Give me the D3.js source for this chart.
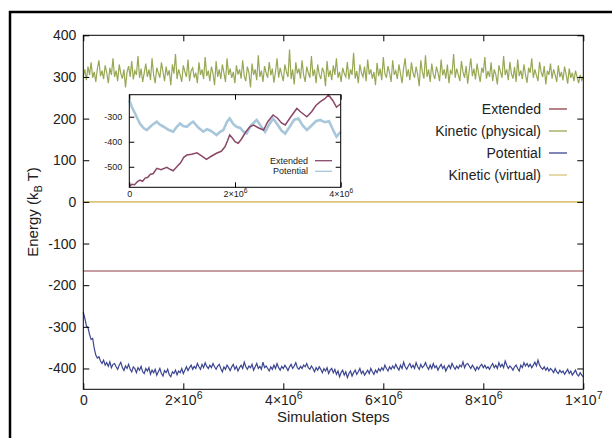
<!DOCTYPE html>
<html>
<head>
<meta charset="utf-8">
<script src="https://cdn.jsdelivr.net/npm/d3@7"></script>
<style>
  body { margin: 0; background: #fff; }
  text { font-family: "Liberation Sans", Arial, sans-serif; fill: #222; }
</style>
</head>
<body>
<div id="chart"></div>
<script>
// sampled every 31250 steps from 0 to 1e7
var kineticPhysical = [
  300, 318, 292, 325, 305, 335, 298, 312, 288, 320, 340, 302, 315, 295, 328, 310, 285, 322, 305, 345,
  300, 315, 290, 330, 308, 296, 318, 275, 312, 326, 300, 338, 294, 315, 305, 350, 298, 320, 288, 310,
  332, 300, 318, 292, 345, 305, 285, 322, 310, 298, 335, 312, 290, 325, 303, 316, 280, 330, 308, 355,
  295, 318, 305, 288, 328, 312, 300, 342, 290, 315, 322, 298, 310, 285, 335, 305, 318, 295, 348, 302,
  315, 290, 325, 308, 280, 338, 300, 318, 295, 330, 310, 288, 345, 305, 320, 298, 312, 285, 328, 306,
  318, 296, 340, 302, 290, 325, 310, 275, 332, 305, 318, 292, 352, 300, 315, 288, 326, 310, 298, 336,
  304, 320, 286, 312, 345, 298, 322, 305, 290, 330, 312, 300, 366, 295, 318, 282, 335, 308, 320, 296,
  340, 305, 288, 325, 310, 298, 350, 302, 318, 285, 330, 306, 295, 322, 312, 278, 338, 300, 316, 292,
  328, 305, 345, 298, 312, 288, 322, 308, 300, 336, 294, 318, 305, 358, 296, 314, 285, 330, 310, 300,
  325, 290, 342, 306, 318, 296, 312, 280, 334, 302, 320, 292, 348, 308, 298, 326, 310, 288, 340, 305,
  315, 295, 330, 308, 285, 322, 345, 300, 318, 292, 335, 310, 298, 325, 305, 278, 340, 312, 296, 352,
  300, 318, 288, 332, 306, 295, 325, 310, 290, 342, 304, 318, 296, 330, 285, 315, 308, 355, 298, 320,
  305, 290, 338, 312, 298, 326, 284, 316, 345, 302, 320, 294, 332, 308, 288, 322, 310, 348, 296, 314,
  300, 335, 290, 318, 306, 282, 328, 312, 298, 350, 305, 318, 292, 336, 308, 296, 324, 288, 342, 302,
  316, 295, 330, 305, 286, 322, 310, 345, 298, 318, 304, 290, 336, 312, 300, 326, 282, 315, 305, 332,
  296, 318, 305, 288, 328, 300, 312, 292, 325, 306, 284, 320, 298, 310, 290, 315, 300, 285, 305, 292,
  300
];
var potential = [
  -265, -280, -298, -302, -318, -330, -328, -352, -368, -375, -372, -382, -388, -380, -392, -386, -395, -384, -398, -390,
  -388, -396, -402, -392, -385, -398, -405, -394, -400, -390, -402, -408, -396, -400, -410, -398, -404, -395, -408, -412,
  -400, -406, -398, -414, -404, -410, -402, -416, -408, -400, -412, -418, -405, -410, -402, -415, -420, -408, -412, -404,
  -415, -406, -410, -400, -412, -404, -396, -405, -398, -392, -402, -395, -400, -388, -396, -402, -390, -398, -386, -395,
  -400, -392, -398, -388, -396, -402, -394, -390, -400, -408, -396, -402, -392, -398, -405, -396, -390, -402, -395, -406,
  -398, -392, -400, -385, -396, -402, -394, -398, -390, -404, -396, -388, -400, -395, -402, -385, -398, -394, -400, -406,
  -396, -402, -392, -400, -388, -398, -404, -395, -400, -392, -398, -405, -396, -390, -400, -394, -386, -398, -402, -395,
  -400, -392, -396, -388, -398, -402, -394, -400, -408, -398, -404, -396, -402, -410, -400, -406, -398, -412, -404, -400,
  -410, -402, -414, -406, -420, -410, -404, -416, -408, -422, -412, -406, -418, -410, -404, -414, -408, -400, -412, -406,
  -416, -410, -404, -412, -400, -408, -414, -404, -410, -400, -406, -398, -404, -392, -400, -406, -396, -402, -394, -400,
  -390, -398, -404, -392, -400, -385, -396, -402, -394, -388, -398, -392, -400, -386, -396, -402, -390, -398, -394, -386,
  -396, -402, -392, -400, -388, -398, -394, -404, -396, -390, -400, -394, -406, -398, -392, -400, -388, -396, -402, -394,
  -400, -392, -396, -384, -398, -390, -388, -394, -400, -392, -398, -405, -396, -402, -394, -390, -398, -392, -400, -396,
  -402, -394, -388, -398, -392, -400, -386, -396, -390, -398, -382, -392, -400, -394, -398, -404, -396, -392, -400, -406,
  -392, -398, -386, -394, -388, -396, -390, -398, -392, -385, -394, -380, -392, -398, -402, -396, -404, -398, -406, -400,
  -404, -410, -400, -408, -412, -404, -410, -406, -414, -408, -402, -412, -406, -416, -410, -404, -414, -418, -410, -416,
  -420
];
var extendedSteps = [0, 1e7];
var extendedValues = [-166, -166];
var kineticVirtual = [0, 0];

// inset (first 4e6 steps), x in millions of steps
var insetExtX = [0, 0.05, 0.1, 0.15, 0.2, 0.25, 0.3, 0.35, 0.4, 0.45, 0.52, 0.6, 0.71, 0.77, 0.83, 0.9, 0.97, 1.03, 1.09, 1.18,
  1.28, 1.36, 1.46, 1.55, 1.65, 1.74, 1.81, 1.86, 1.9, 1.95, 2.0, 2.06, 2.12, 2.2, 2.28, 2.35, 2.45, 2.54, 2.62, 2.72,
  2.8, 2.88, 2.95, 3.05, 3.17, 3.25, 3.36, 3.45, 3.53, 3.61, 3.7, 3.77, 3.85, 3.92, 4.0];
var insetExtY = [-577, -570, -572, -560, -553, -558, -545, -542, -530, -528, -506, -512, -502, -510, -516, -500, -484, -462, -453, -450,
  -444, -455, -470, -458, -446, -438, -420, -395, -373, -385, -400, -406, -390, -362, -340, -333, -345, -353, -320, -293,
  -305, -325, -333, -302, -267, -282, -300, -280, -255, -241, -228, -213, -235, -262, -248];
var insetPotX = [0, 0.05, 0.11, 0.16, 0.2, 0.27, 0.33, 0.42, 0.52, 0.58, 0.65, 0.74, 0.83, 0.9, 0.96, 1.02, 1.09, 1.15, 1.21, 1.3,
  1.4, 1.47, 1.53, 1.6, 1.65, 1.72, 1.78, 1.85, 1.9, 1.97, 2.03, 2.1, 2.16, 2.22, 2.3, 2.41, 2.5, 2.57, 2.65, 2.72,
  2.8, 2.88, 2.95, 3.05, 3.12, 3.2, 3.28, 3.36, 3.45, 3.53, 3.61, 3.7, 3.78, 3.85, 3.92, 4.0];
var insetPotY = [-234, -262, -287, -310, -327, -345, -353, -335, -320, -332, -340, -352, -360, -340, -327, -337, -340, -328, -320, -342,
  -360, -350, -355, -365, -373, -360, -353, -320, -307, -330, -340, -345, -360, -367, -335, -313, -340, -360, -330, -307,
  -330, -355, -367, -335, -312, -307, -335, -353, -335, -318, -313, -322, -318, -350, -380, -360];

var xTicks = [0, 2e6, 4e6, 6e6, 8e6, 1e7];
var xTickLabels = [["0", ""], ["2\u00d710", "6"], ["4\u00d710", "6"], ["6\u00d710", "6"], ["8\u00d710", "6"], ["1\u00d710", "7"]];
var yTicks = [-400, -300, -200, -100, 0, 100, 200, 300, 400];
var insetXTicks = [0, 2e6, 4e6];
var insetXTickLabels = [["0", ""], ["2\u00d710", "6"], ["4\u00d710", "6"]];
var insetYTicks = [-500, -400, -300];

var legendNames = ["Extended", "Kinetic (physical)", "Potential", "Kinetic (virtual)"];
var legendColors = ["#8e3f45", "#97a855", "#3b4590", "#dcc47a"];

drawChart();
function drawChart(){
    var width = 616, height = 438;
    var svg = d3.select("#chart").append("svg")
        .attr("width", width).attr("height", height);

    // outer frame
    svg.append("path")
        .attr("d", "M10,440 L10,12 L612,12")
        .attr("fill", "none").attr("stroke", "#000").attr("stroke-width", 2.5);

    var left = 83.3, right = 583.3, top = 35.3, bottom = 389.3;
    var x = d3.scaleLinear().domain([0, 1e7]).range([left, right]);
    var y = d3.scaleLinear().domain([-450, 400]).range([bottom, top]);
    var plain = function(d) { return String(d); };

    var n = kineticPhysical.length;
    var step = 1e7 / (n - 1);
    var line = d3.line()
        .x(function(d, i) { return x(i * step); })
        .y(function(d) { return y(d); });

    svg.append("path").datum(kineticPhysical)
        .attr("d", line).attr("fill", "none")
        .attr("stroke", legendColors[1]).attr("stroke-width", 1.2);
    svg.append("path").datum(potential)
        .attr("d", line).attr("fill", "none")
        .attr("stroke", legendColors[2]).attr("stroke-width", 1.2);

    var flat = d3.line()
        .x(function(d, i) { return x(extendedSteps[i]); })
        .y(function(d) { return y(d); });
    svg.append("path").datum(extendedValues)
        .attr("d", flat).attr("fill", "none")
        .attr("stroke", legendColors[0]).attr("stroke-width", 1.2);
    svg.append("path").datum(kineticVirtual)
        .attr("d", flat).attr("fill", "none")
        .attr("stroke", legendColors[3]).attr("stroke-width", 1.6);

    // axes, gnuplot style: ticks inside, mirrored
    function superLabel(sel, labels, size) {
        sel.selectAll("text").each(function(d, i) {
            var t = d3.select(this).text("");
            t.append("tspan").text(labels[i][0]);
            if (labels[i][1]) {
                t.append("tspan").attr("dy", -size * 0.45).attr("font-size", size * 0.75).text(labels[i][1]);
            }
        });
    }

    var gx = svg.append("g").attr("transform", "translate(0," + bottom + ")")
        .call(d3.axisBottom(x).tickValues(xTicks).tickSizeInner(-6).tickSizeOuter(0).tickPadding(5));
    gx.selectAll("text").attr("font-size", 14).attr("dy", "0.75em");
    superLabel(gx, xTickLabels, 14);
    svg.append("g").attr("transform", "translate(0," + top + ")")
        .call(d3.axisTop(x).tickValues(xTicks).tickSizeInner(-6).tickSizeOuter(0).tickFormat(""));

    var gy = svg.append("g").attr("transform", "translate(" + left + ",0)")
        .call(d3.axisLeft(y).tickValues(yTicks).tickSizeInner(-6).tickSizeOuter(0).tickPadding(7).tickFormat(plain));
    gy.selectAll("text").attr("font-size", 14);
    svg.append("g").attr("transform", "translate(" + right + ",0)")
        .call(d3.axisRight(y).tickValues(yTicks).tickSizeInner(-6).tickSizeOuter(0).tickFormat(""));
    svg.selectAll(".domain").remove();
    svg.selectAll(".tick line").attr("stroke", "#000");

    svg.append("rect").attr("x", left).attr("y", top)
        .attr("width", right - left).attr("height", bottom - top)
        .attr("fill", "none").attr("stroke", "#000").attr("stroke-width", 1);

    svg.append("text").attr("x", (left + right) / 2).attr("y", 422)
        .attr("text-anchor", "middle").attr("font-size", 15).text("Simulation Steps");

    var yl = svg.append("text").attr("text-anchor", "middle").attr("font-size", 15)
        .attr("transform", "translate(38," + 212 + ")rotate(-90)");
    yl.append("tspan").text("Energy (k");
    yl.append("tspan").attr("font-size", 11).attr("dy", 4).text("B");
    yl.append("tspan").attr("dy", -4).text(" T)");

    // legend
    var leg = svg.append("g");
    legendNames.forEach(function(name, i) {
        var ly = 109 + i * 22;
        leg.append("text").attr("x", 541).attr("y", ly).attr("dy", "0.35em")
            .attr("text-anchor", "end").attr("font-size", 14).text(name);
        leg.append("line").attr("x1", 549).attr("x2", 567).attr("y1", ly).attr("y2", ly)
            .attr("stroke", legendColors[i]).attr("stroke-width", 1.3);
    });

    // inset
    var il = 129.3, ir = 340.7, it = 94.7, ib = 187.3;
    var ix = d3.scaleLinear().domain([0, 4e6]).range([il, ir]);
    var iy = d3.scaleLinear().domain([-582, -212]).range([ib, it]);
    svg.append("rect").attr("x", il).attr("y", it)
        .attr("width", ir - il).attr("height", ib - it).attr("fill", "#fff");

    var insetLine = function(xs) {
        return d3.line()
            .x(function(d, i) { return ix(xs[i] * 1e6); })
            .y(function(d) { return iy(d); });
    };
    svg.append("path").datum(insetPotY)
        .attr("d", insetLine(insetPotX)).attr("fill", "none")
        .attr("stroke", "#a8c7da").attr("stroke-width", 2.6);
    svg.append("path").datum(insetExtY)
        .attr("d", insetLine(insetExtX)).attr("fill", "none")
        .attr("stroke", "#8a4868").attr("stroke-width", 1.5);

    var igx = svg.append("g").attr("transform", "translate(0," + ib + ")")
        .call(d3.axisBottom(ix).tickValues(insetXTicks).tickSizeInner(-5).tickSizeOuter(0).tickPadding(3));
    igx.selectAll("text").attr("font-size", 9).attr("dy", "0.75em");
    superLabel(igx, insetXTickLabels, 9);
    svg.append("g").attr("transform", "translate(0," + it + ")")
        .call(d3.axisTop(ix).tickValues(insetXTicks).tickSizeInner(-5).tickSizeOuter(0).tickFormat(""));
    var igy = svg.append("g").attr("transform", "translate(" + il + ",0)")
        .call(d3.axisLeft(iy).tickValues(insetYTicks).tickSizeInner(-5).tickSizeOuter(0).tickPadding(7).tickFormat(plain));
    igy.selectAll("text").attr("font-size", 9);
    svg.append("g").attr("transform", "translate(" + ir + ",0)")
        .call(d3.axisRight(iy).tickValues(insetYTicks).tickSizeInner(-5).tickSizeOuter(0).tickFormat(""));
    svg.selectAll(".domain").remove();
    svg.selectAll(".tick line").attr("stroke", "#000");

    svg.append("rect").attr("x", il).attr("y", it)
        .attr("width", ir - il).attr("height", ib - it)
        .attr("fill", "none").attr("stroke", "#000").attr("stroke-width", 1);

    var insetNames = ["Extended", "Potential"];
    var insetColors = ["#8a4868", "#a8c7da"];
    insetNames.forEach(function(name, i) {
        var ly = 160.7 + i * 10.6;
        svg.append("text").attr("x", 308).attr("y", ly).attr("dy", "0.35em")
            .attr("text-anchor", "end").attr("font-size", 9).text(name);
        svg.append("line").attr("x1", 315).attr("x2", 332).attr("y1", ly).attr("y2", ly)
            .attr("stroke", insetColors[i]).attr("stroke-width", 1.3);
    });
}
</script>
</body>
</html>
